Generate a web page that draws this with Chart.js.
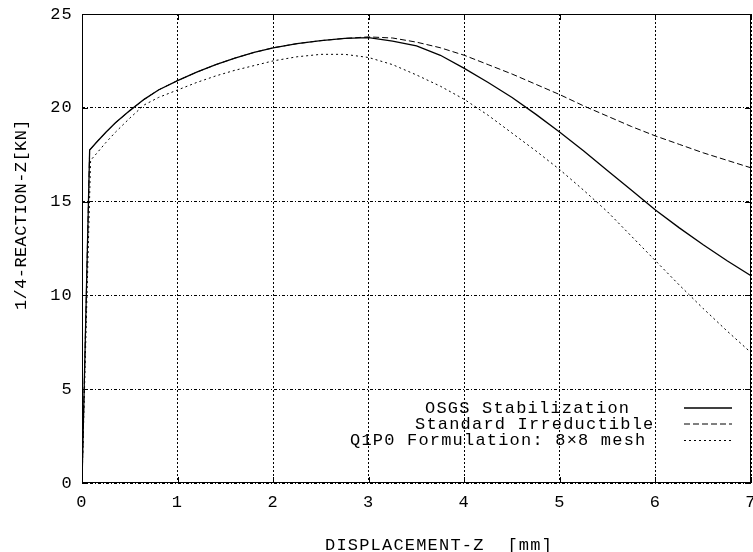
<!DOCTYPE html>
<html>
<head>
<meta charset="utf-8">
<script src="https://cdn.jsdelivr.net/npm/chart.js@4/dist/chart.umd.min.js"></script>
<style>
  body { margin: 0; background: #fff; }
  canvas { display: block; }
</style>
</head>
<body>
<canvas id="reactionChart" width="753" height="552"></canvas>
<script>
// displacement [mm] / reaction [KN]
const dispOSGS = [0, 0.08, 0.15, 0.25, 0.35, 0.5, 0.65, 0.8, 1, 1.2, 1.4, 1.6, 1.8, 2, 2.25, 2.5, 2.75, 3, 3.25, 3.5, 3.75, 4, 4.25, 4.5, 4.75, 5, 5.25, 5.5, 5.75, 6, 6.25, 6.5, 6.75, 7]
const reacOSGS = [0, 17.75, 18.15, 18.7, 19.2, 19.85, 20.45, 20.95, 21.45, 21.9, 22.3, 22.65, 22.95, 23.2, 23.42, 23.58, 23.7, 23.74, 23.55, 23.3, 22.8, 22.1, 21.35, 20.55, 19.65, 18.7, 17.7, 16.65, 15.6, 14.55, 13.6, 12.7, 11.85, 11.05]

const dispStd = [0, 0.08, 0.15, 0.25, 0.35, 0.5, 0.65, 0.8, 1, 1.2, 1.4, 1.6, 1.8, 2, 2.25, 2.5, 2.75, 3, 3.25, 3.5, 3.75, 4, 4.25, 4.5, 4.75, 5, 5.25, 5.5, 5.75, 6, 6.25, 6.5, 6.75, 7]
const reacStd = [0, 17.75, 18.15, 18.7, 19.2, 19.85, 20.45, 20.95, 21.45, 21.9, 22.3, 22.65, 22.95, 23.2, 23.42, 23.58, 23.7, 23.78, 23.72, 23.5, 23.2, 22.8, 22.3, 21.8, 21.25, 20.7, 20.1, 19.55, 19.0, 18.5, 18.05, 17.6, 17.2, 16.8]

const dispQ1P0 = [0, 0.09, 0.15, 0.25, 0.35, 0.5, 0.65, 0.8, 1, 1.2, 1.4, 1.6, 1.8, 2, 2.25, 2.5, 2.75, 3, 3.25, 3.5, 3.75, 4, 4.25, 4.5, 4.75, 5, 5.25, 5.5, 5.75, 6, 6.25, 6.5, 6.75, 7]
const reacQ1P0 = [0, 17.2, 17.55, 18.15, 18.7, 19.45, 20.15, 20.55, 20.95, 21.35, 21.7, 22.0, 22.25, 22.5, 22.72, 22.85, 22.85, 22.68, 22.3, 21.75, 21.15, 20.45, 19.6, 18.65, 17.7, 16.7, 15.6, 14.45, 13.15, 11.85, 10.55, 9.3, 8.1, 6.95]

const seriesLabels = ['OSGS Stabilization', 'Standard Irreductible', 'Q1P0 Formulation: 8\u00d78 mesh']
const xTitle = 'DISPLACEMENT-Z  [mm]'
const yTitle = '1/4-REACTION-Z[KN]'

const FONT = "'Liberation Mono', 'DejaVu Sans Mono', monospace"
const toPoints = (xs, ys) => xs.map((x, i) => ({ x: x, y: ys[i] }))

const dashes = [[], [6, 3], [2, 3]]

// gnuplot-like frame, inward ticks, key and axis labels
const gnuplotFrame = {
    id: 'gnuplotFrame',
    beforeDraw(chart) {
        chart.ctx.letterSpacing = '1.2px'
    },
    afterDraw(chart) {
        const ctx = chart.ctx
        const a = chart.chartArea
        const xs = chart.scales.x
        const ys = chart.scales.y
        ctx.save()
        ctx.strokeStyle = '#000'
        ctx.lineWidth = 1
        ctx.setLineDash([])
        ctx.strokeRect(a.left + 0.5, a.top + 0.5, a.right - a.left - 1, a.bottom - a.top - 1)
        ctx.beginPath()
        xs.ticks.forEach(t => {
            const px = Math.round(xs.getPixelForValue(t.value)) + 0.5
            ctx.moveTo(px, a.bottom); ctx.lineTo(px, a.bottom - 6)
            ctx.moveTo(px, a.top); ctx.lineTo(px, a.top + 6)
        })
        ys.ticks.forEach(t => {
            const py = Math.round(ys.getPixelForValue(t.value)) + 0.5
            ctx.moveTo(a.left, py); ctx.lineTo(a.left + 6, py)
            ctx.moveTo(a.right, py); ctx.lineTo(a.right - 6, py)
        })
        ctx.stroke()

        // key
        ctx.font = '17px ' + FONT
        ctx.fillStyle = '#000'
        ctx.textBaseline = 'middle'
        ctx.textAlign = 'left'
        const keyX = [425, 415, 350]
        const keyY = [408, 424, 440.5]
        seriesLabels.forEach((label, i) => {
            ctx.fillText(label, keyX[i], keyY[i])
            ctx.beginPath()
            ctx.setLineDash(dashes[i])
            ctx.lineWidth = i === 0 ? 1.3 : 1
            ctx.moveTo(684, keyY[i]); ctx.lineTo(732, keyY[i])
            ctx.stroke()
        })
        ctx.setLineDash([])

        // axis titles
        ctx.textAlign = 'left'
        ctx.fillText(xTitle, 325, 545)
        ctx.translate(21.5, 310)
        ctx.rotate(-Math.PI / 2)
        ctx.letterSpacing = '0.4px'
        ctx.fillText(yTitle, 0, 0)
        ctx.restore()
    }
}

new Chart(document.getElementById('reactionChart'), {
    type: 'line',
    data: {
        datasets: [
            { label: seriesLabels[0], data: toPoints(dispOSGS, reacOSGS), borderDash: dashes[0], borderWidth: 1.3 },
            { label: seriesLabels[1], data: toPoints(dispStd, reacStd), borderDash: dashes[1], borderWidth: 1 },
            { label: seriesLabels[2], data: toPoints(dispQ1P0, reacQ1P0), borderDash: dashes[2], borderWidth: 1 }
        ].map(d => Object.assign(d, {
            borderColor: '#000',
            pointRadius: 0,
            fill: false,
            tension: 0
        }))
    },
    options: {
        responsive: false,
        animation: false,
        layout: { padding: { top: 14, right: 2, left: 0, bottom: 0 } },
        plugins: { legend: { display: false }, tooltip: { enabled: false } },
        scales: {
            x: {
                type: 'linear',
                min: 0,
                max: 7,
                ticks: { stepSize: 1, padding: 9, color: '#000', font: { family: FONT, size: 17 } },
                grid: { color: '#000', lineWidth: 1, drawTicks: false },
                border: { display: false, dash: [2, 2] },
                afterFit: s => { s.height = 69; s.paddingLeft = 0; s.paddingRight = 0 }
            },
            y: {
                min: 0,
                max: 25,
                ticks: { stepSize: 5, padding: 9, color: '#000', font: { family: FONT, size: 17 } },
                grid: { color: '#000', lineWidth: 1, drawTicks: false },
                border: { display: false, dash: [3, 2, 1, 2] },
                afterFit: s => { s.width = 82; s.paddingTop = 0; s.paddingBottom = 0 }
            }
        }
    },
    plugins: [gnuplotFrame]
})
</script>
</body>
</html>
